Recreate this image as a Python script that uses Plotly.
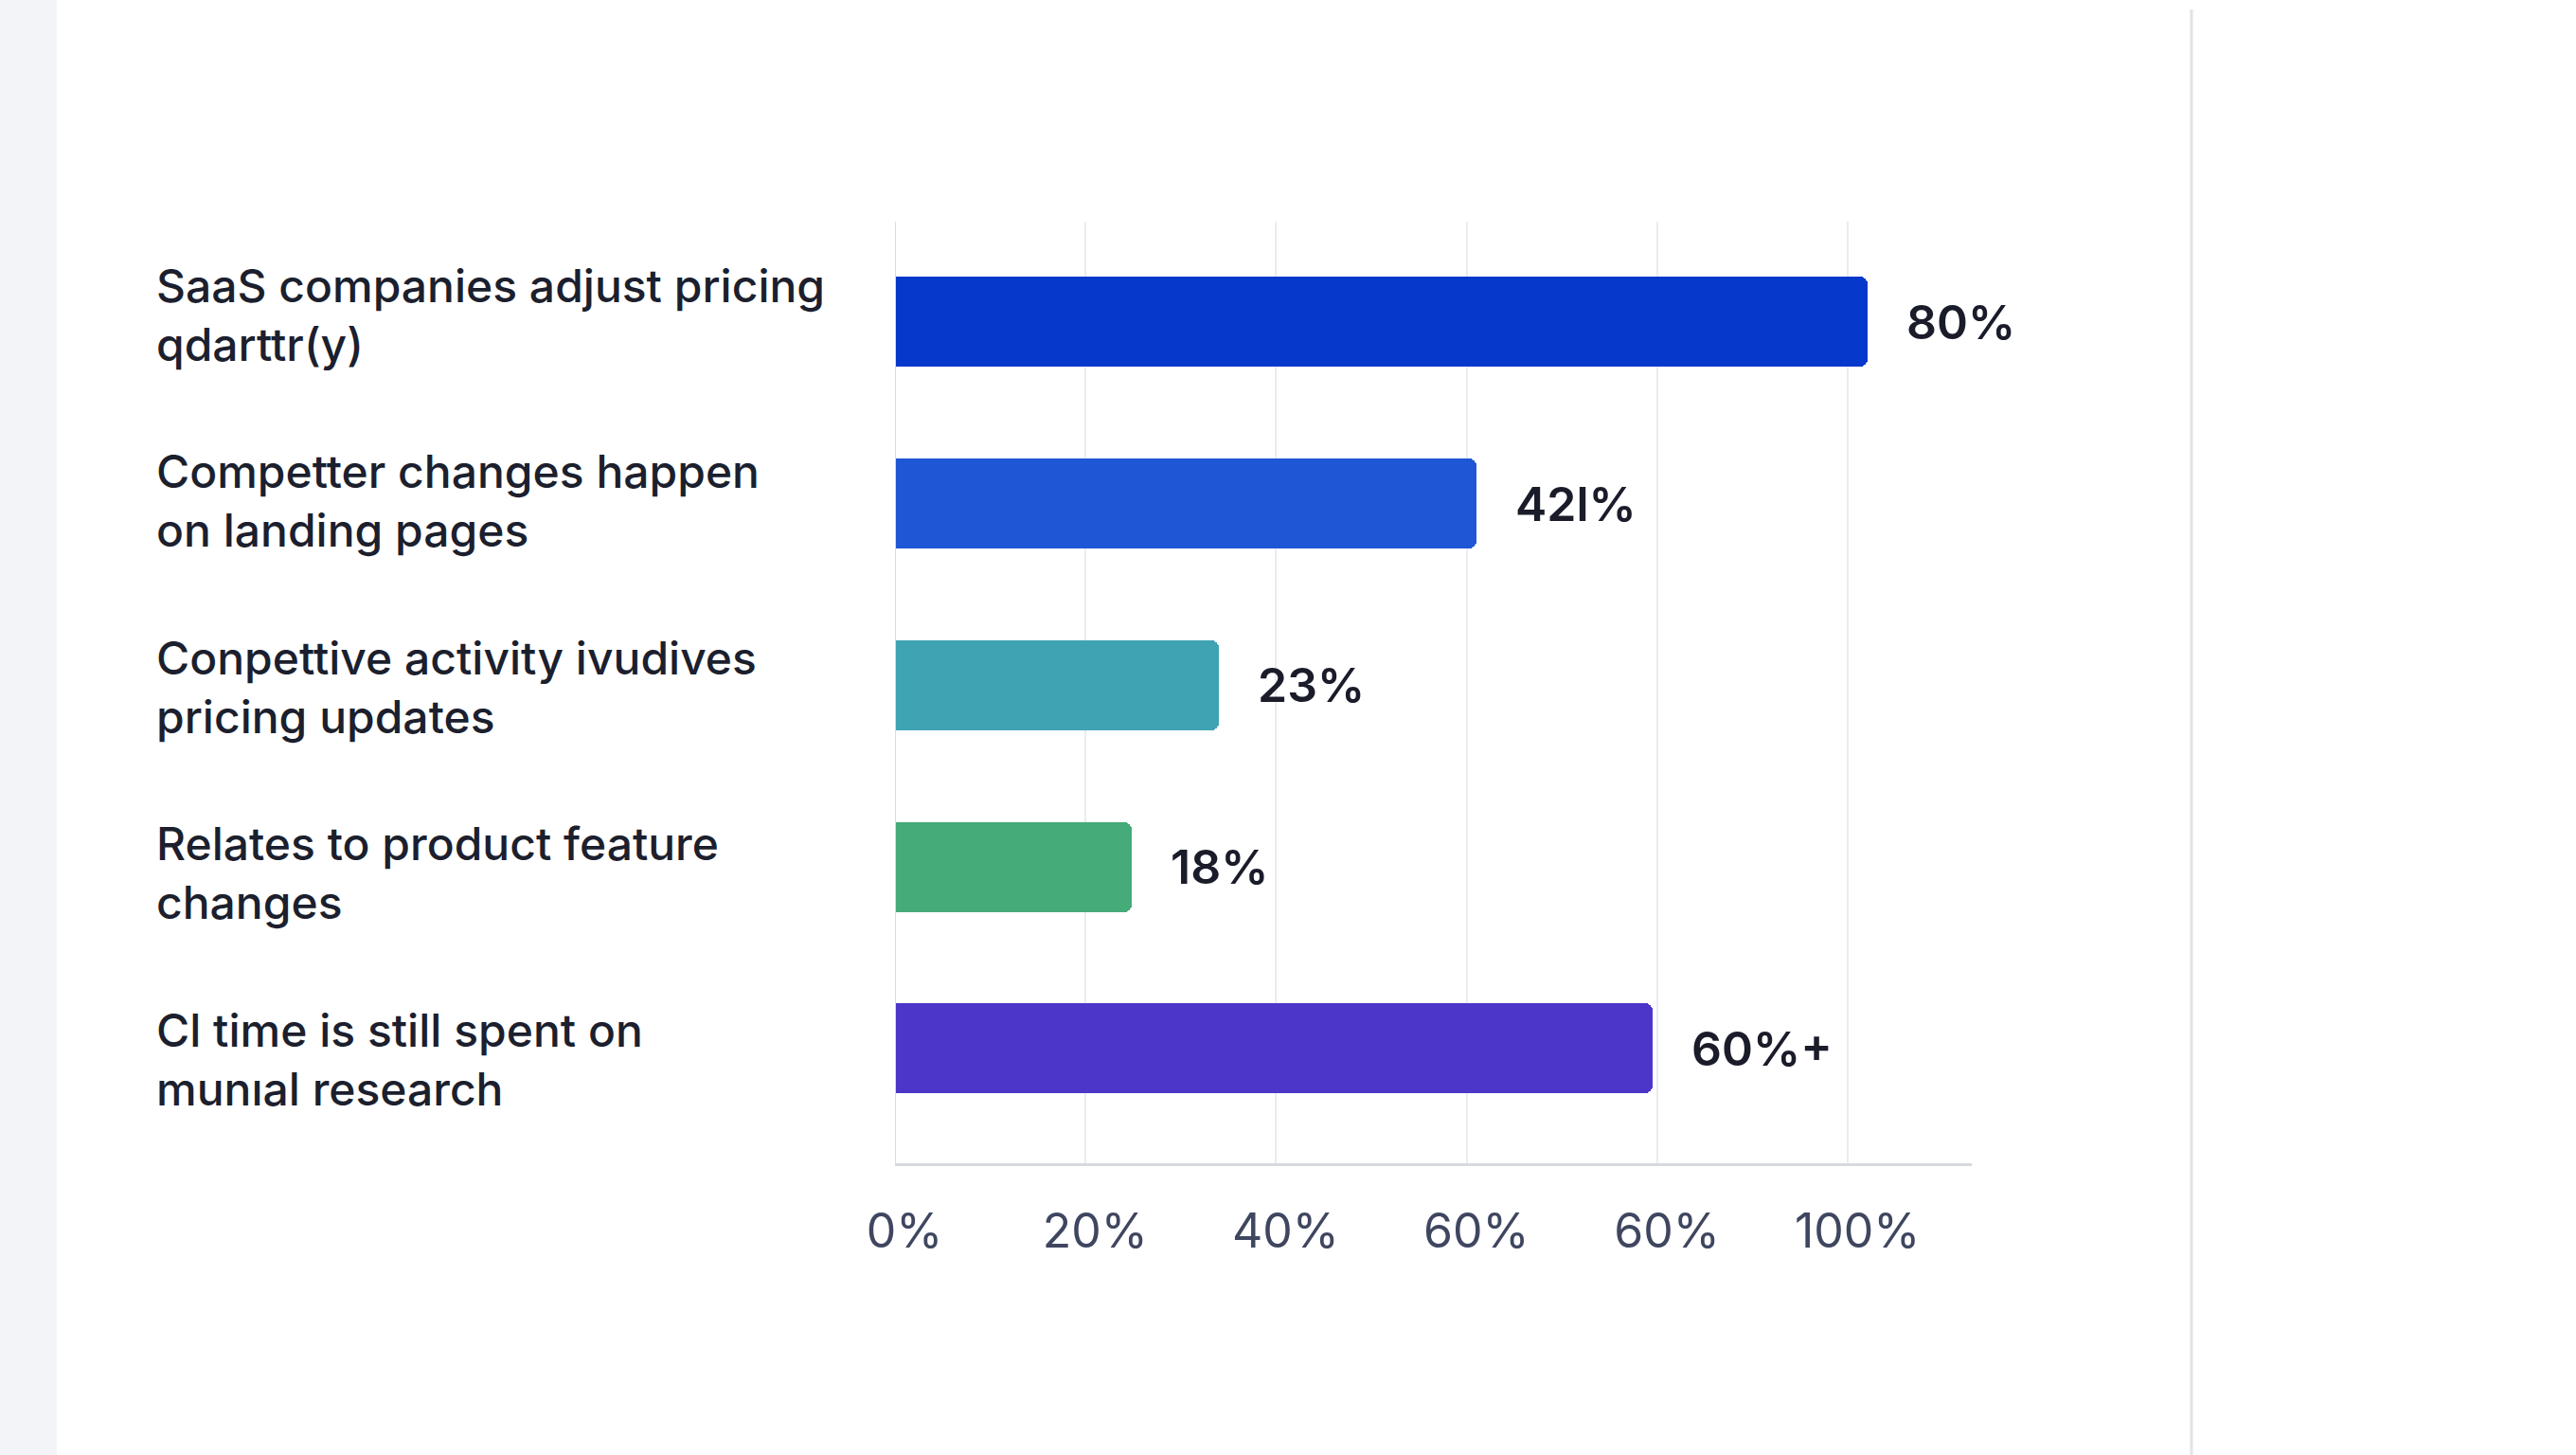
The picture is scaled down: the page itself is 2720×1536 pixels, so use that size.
import plotly.graph_objects as go

# ---- data ----
categories = [
    "SaaS companies adjust pricing<br>qdarttr(y)",
    "Competter changes happen<br>on landing pages",
    "Conpettive activity ivudives<br>pricing updates",
    "Relates to product feature<br>changes",
    "Cl time is still spent on<br>munıal research",
]
bar_lengths = [102.1, 61.0, 34.0, 24.8, 79.5]          # measured against the x grid
value_labels = ["80%", "42l%", "23%", "18%", "60%+"]
bar_colors = ["#0638cc", "#1f56d6", "#3fa3b3", "#45ab78", "#4b36c9"]
tick_values = [0, 20, 40, 60, 80, 100]
tick_labels = ["0%", "20%", "40%", "60%", "60%", "100%"]

W, H = 2720, 1536
ML, MR, MT, MB = 945, 638, 234, 308

ypos = list(range(len(categories)))

fig = go.Figure()
fig.add_trace(go.Bar(
    x=bar_lengths, y=ypos, orientation="h",
    marker=dict(color=bar_colors, line=dict(width=0), cornerradius=8),
    width=0.495, hoverinfo="skip", showlegend=False,
))

# value labels
for yv, xv, lab in zip(ypos, bar_lengths, value_labels):
    fig.add_annotation(x=xv, y=yv, xref="x", yref="y", text=lab,
                       showarrow=False, xanchor="left", yanchor="middle",
                       xshift=39, yshift=0,
                       font=dict(family="Inter", size=50, color="#1a1c2a", weight=600))

# category labels (left aligned); labels are spaced slightly wider than bars
n = len(categories)
for i, (yv, cat) in enumerate(zip(ypos, categories)):
    fig.add_annotation(x=(163 - ML) / (W - ML - MR), y=yv, xref="paper", yref="y",
                       text=cat, showarrow=False, xanchor="left", yanchor="middle",
                       align="left", yshift=-2 + ((n - 1) / 2 - i) * 4.7,
                       font=dict(family="Inter", size=48, color="#1c1f2e", weight=500))

shapes = [
    # left grey strip
    dict(type="rect", xref="paper", yref="paper",
         x0=-ML / (W - ML - MR), x1=(60 - ML) / (W - ML - MR),
         y0=-MB / (H - MT - MB), y1=1 + MT / (H - MT - MB),
         fillcolor="#f3f4f7", line=dict(width=0), layer="below"),
    # right vertical divider
    dict(type="line", xref="paper", yref="paper",
         x0=(2314 - ML) / (W - ML - MR), x1=(2314 - ML) / (W - ML - MR),
         y0=-MB / (H - MT - MB), y1=1 + MT / (H - MT - MB) - 0.01,
         line=dict(color="#e1e3e8", width=3), layer="below"),
]

fig.update_layout(
    width=W, height=H,
    margin=dict(l=ML, r=MR, t=MT, b=MB, pad=0),
    paper_bgcolor="#ffffff", plot_bgcolor="#ffffff",
    shapes=shapes,
    xaxis=dict(range=[0, 113], tickvals=tick_values, ticktext=tick_labels,
               showgrid=True, gridcolor="#eaecf0", gridwidth=2,
               zeroline=False, showline=True, linecolor="#d6d9df", linewidth=3,
               ticks="", ticklabelstandoff=26, ticklabelshift=10,
               tickfont=dict(family="Inter", size=50, color="#3f4660"),
               fixedrange=True),
    yaxis=dict(range=[4.632, -0.552], showticklabels=False, showgrid=False,
               zeroline=False, showline=False, ticks="", fixedrange=True),
    bargap=0,
)
fig.add_shape(type="line", xref="x", yref="paper", x0=0, x1=0, y0=0, y1=1,
              line=dict(color="#d9dce2", width=2))

fig.write_html("out.html")
